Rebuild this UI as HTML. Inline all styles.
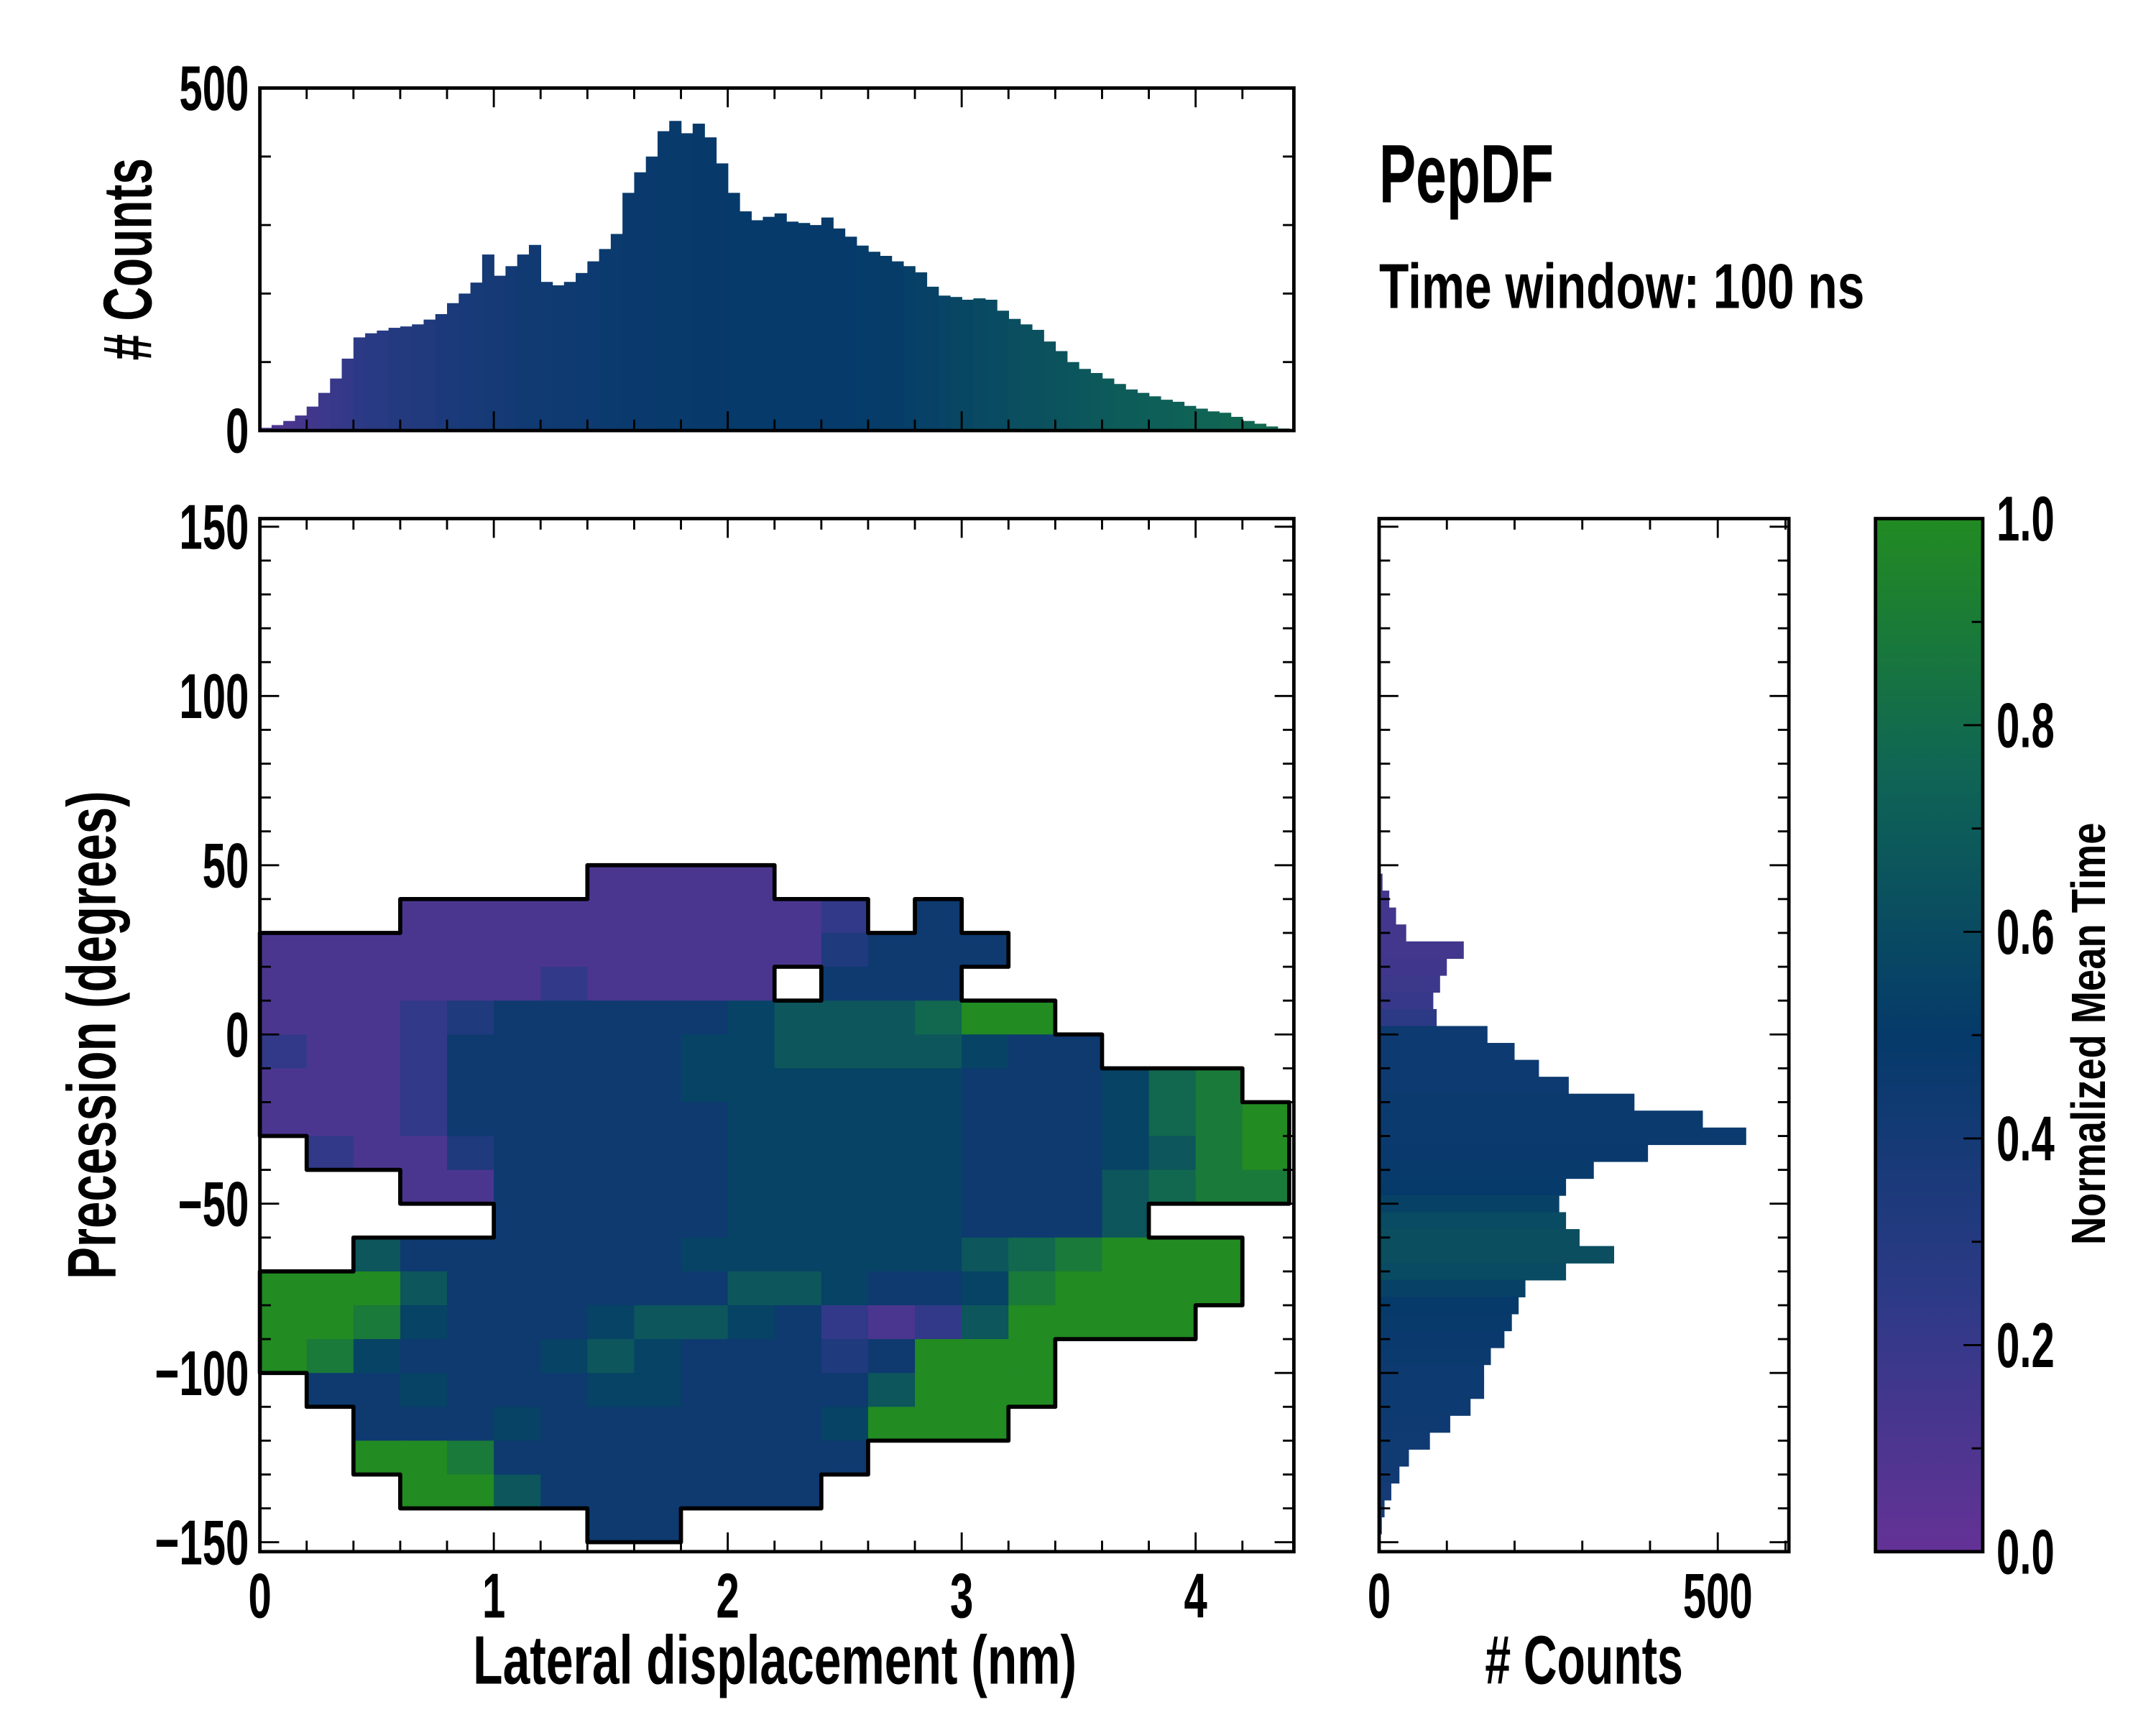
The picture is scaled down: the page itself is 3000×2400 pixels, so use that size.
<!DOCTYPE html>
<html><head><meta charset="utf-8"><style>
html,body{margin:0;padding:0;background:#fff;}
svg{display:block;}
text{font-family:"Liberation Sans Narrow","Liberation Sans",sans-serif;font-weight:bold;fill:#000;}
</style></head><body>
<svg id="fig" width="3000" height="2400" viewBox="0 0 1568 1254" preserveAspectRatio="none" xmlns="http://www.w3.org/2000/svg">
<defs>
<linearGradient id="cbar" x1="0" y1="1" x2="0" y2="0">
<stop offset="0" stop-color="#643296"/><stop offset="0.25" stop-color="#2c3a86"/>
<stop offset="0.5" stop-color="#053a6a"/><stop offset="0.75" stop-color="#0f6455"/>
<stop offset="1" stop-color="#228b22"/>
</linearGradient>
</defs>
<g id="top-hist"></g>
<g id="main"></g>
<g id="right-hist"></g>
<g id="colorbar">
<rect x="1364" y="377" width="78" height="751" fill="url(#cbar)" stroke="#000" stroke-width="2.5"/>
</g>
<text x="1003" y="147" font-size="60" textLength="127" lengthAdjust="spacingAndGlyphs">PepDF</text>
<text x="1003" y="224" font-size="46" textLength="353" lengthAdjust="spacingAndGlyphs">Time window: 100 ns</text>
<text x="344" y="1224" font-size="50" textLength="439" lengthAdjust="spacingAndGlyphs">Lateral displacement (nm)</text>
<text x="1080" y="1224" font-size="50" textLength="144" lengthAdjust="spacingAndGlyphs"># Counts</text>
<text transform="translate(84,930) rotate(-90)" font-size="50" textLength="355" lengthAdjust="spacingAndGlyphs">Precession (degrees)</text>
<text transform="translate(110,262) rotate(-90)" font-size="50" textLength="147" lengthAdjust="spacingAndGlyphs"># Counts</text>
<text transform="translate(1531,905) rotate(-90)" font-size="35" textLength="307" lengthAdjust="spacingAndGlyphs">Normalized Mean Time</text>
</svg>
<script>
// ---- data ----
const topBinStart = 0.0, topBinWidth = 0.05;
const topCounts = [4,8,14,22,35,55,76,105,136,142,146,150,152,155,162,170,186,200,216,257,226,240,257,271,217,212,217,230,247,265,287,347,377,400,437,452,434,448,428,390,347,320,307,312,317,305,303,300,311,295,283,270,261,255,247,240,231,210,197,195,191,193,191,175,163,155,147,130,116,100,90,84,76,68,60,55,50,45,42,36,32,28,26,20,14,10,6,3,2];
const topMeanTime = [0.1,0.1,0.12,0.14,0.16,0.18,0.2,0.22,0.25,0.27,0.28,0.3,0.31,0.32,0.33,0.35,0.36,0.37,0.38,0.4,0.4,0.41,0.42,0.42,0.43,0.44,0.44,0.45,0.45,0.46,0.46,0.47,0.47,0.47,0.48,0.48,0.48,0.49,0.49,0.49,0.5,0.5,0.5,0.5,0.5,0.5,0.5,0.5,0.5,0.5,0.5,0.51,0.51,0.52,0.52,0.53,0.54,0.55,0.56,0.57,0.58,0.59,0.6,0.61,0.62,0.63,0.63,0.64,0.65,0.66,0.67,0.68,0.69,0.7,0.7,0.71,0.72,0.72,0.73,0.74,0.75,0.75,0.76,0.76,0.77,0.78,0.78,0.78,0.78];
const rightBinTop = 47.5, rightBinWidth = 5;
const rightCounts = [5,15,25,40,125,100,90,80,85,160,200,236,280,377,478,542,397,317,276,266,276,296,347,276,216,206,196,185,165,155,155,135,105,75,44,30,18,8,4,2];
const rightMeanTime = [0.15,0.15,0.15,0.15,0.15,0.16,0.18,0.2,0.25,0.45,0.45,0.45,0.45,0.46,0.46,0.46,0.47,0.48,0.5,0.55,0.6,0.62,0.62,0.6,0.55,0.5,0.48,0.47,0.46,0.45,0.45,0.45,0.44,0.43,0.43,0.42,0.4,0.4,0.4,0.4];
const gridX0 = 0, gridDX = 0.2, gridYTop = 50, gridDY = 10;
const gridRows = [
".......1111...........",
"...1111111112.4.......",
"1111111111113444......",
"11111121111.444.......",
"11123444445666799.....",
"211244444556666544....",
"111244444555555444578.",
"1112444444555554445789",
".211344444555554445689",
"...1144444555554446788",
".....44444555554446...",
"..6444444555555678999.",
"999644444466544589999.",
"99854445665421269999..",
"98544456544434999.....",
".4454445544446999.....",
"..44454444445999......",
"..99844444444.........",
"...996444444..........",
".......44............."];
const xTicks = [0,1,2,3,4];
const yTicks = [150,100,50,0,-50,-100,-150];
const yTickLabels = ["150","100","50","0","\u221250","\u2212100","\u2212150"];
const topYTicks = [0,500];
const rightXTicks = [0,500];
const cbTicks = [0,0.2,0.4,0.6,0.8,1.0];
const cbTickLabels = ["0.0","0.2","0.4","0.6","0.8","1.0"];

// ---- geometry ----
const NS = "http://www.w3.org/2000/svg";
const MX0=189, MX1=941, MY0=377, MY1=1128;
const TY0=64, TY1=313, RX0=1003, RX1=1301, CX0=1364, CX1=1442;
const xMin=0, xMax=4.42, yMin=-152.8, yMax=152.4, tMax=500, rMax=605;
const sx = v => MX0 + (v-xMin)/(xMax-xMin)*(MX1-MX0);
const sy = v => MY1 - (v-yMin)/(yMax-yMin)*(MY1-MY0);
const sTop = v => TY1 - v/tMax*(TY1-TY0);
const sR = v => RX0 + v/rMax*(RX1-RX0);
const sC = v => MY1 - v*(MY1-MY0);

const stops=[[0,[100,50,150]],[0.25,[44,58,134]],[0.5,[5,58,106]],[0.75,[15,100,85]],[1,[34,139,34]]];
function cmap(t){t=Math.max(0,Math.min(1,t));for(let i=1;i<stops.length;i++){if(t<=stops[i][0]){const a=stops[i-1],b=stops[i];const f=(t-a[0])/(b[0]-a[0]);const c=a[1].map((v,k)=>Math.round(v+(b[1][k]-v)*f));return `rgb(${c[0]},${c[1]},${c[2]})`;}}return "rgb(34,139,34)";}
function mk(tag,attrs,parent){const e=document.createElementNS(NS,tag);for(const k in attrs)e.setAttribute(k,attrs[k]);parent.appendChild(e);return e;}
function line(p,x1,y1,x2,y2,w){return mk("line",{x1,y1,x2,y2,stroke:"#000","stroke-width":w||1.5},p);}
function label(p,x,y,s,anchor,size){const t=mk("text",{x:0,y:0,transform:`translate(${x},${y}) scale(0.66,1)`,"font-size":size||46,"text-anchor":anchor},p);t.textContent=s;return t;}

// ---- top histogram ----
const gT=document.getElementById("top-hist");
topCounts.forEach((c,i)=>{
  const x0=sx(topBinStart+i*topBinWidth), x1=sx(topBinStart+(i+1)*topBinWidth);
  const r=mk("rect",{x:x0,y:sTop(c),width:Math.max(0,Math.min(x1,MX1)-x0+0.4),height:TY1-sTop(c),fill:cmap(topMeanTime[i])},gT);
  
  
});
mk("rect",{x:MX0,y:TY0,width:MX1-MX0,height:TY1-TY0,fill:"none",stroke:"#000","stroke-width":2.5},gT);
for(let v=0;v<=4.4;v+=0.2){const x=sx(v);const maj=Math.abs(v-Math.round(v))<1e-6;const L=maj?14:8;line(gT,x,TY1,x,TY1-L);line(gT,x,TY0,x,TY0+L);}
for(let v=0;v<=500;v+=100){const y=sTop(v);const maj=(v%500===0);const L=maj?14:8;line(gT,MX0,y,MX0+L,y);line(gT,MX1,y,MX1-L,y);}
topYTicks.forEach(v=>{const t=label(gT,MX0-8,sTop(v)+16,String(v),"end");
  
  });

// ---- heatmap ----
const gM=document.getElementById("main");
const nR=gridRows.length, nC=gridRows[0].length;
const filled=(r,c)=>r>=0&&r<nR&&c>=0&&c<nC&&gridRows[r][c]!==".";
for(let r=0;r<nR;r++)for(let c=0;c<nC;c++){
  if(!filled(r,c))continue;
  const v=parseInt(gridRows[r][c])/9;
  const x0=sx(gridX0+c*gridDX), x1=Math.min(MX1,sx(gridX0+(c+1)*gridDX));
  const y0=sy(gridYTop-r*gridDY), y1=sy(gridYTop-(r+1)*gridDY);
  const cell=mk("rect",{x:x0,y:y0,width:x1-x0+0.5,height:y1-y0+0.5,fill:cmap(v)},gM);
  
  
}
let d="";
for(let r=0;r<nR;r++)for(let c=0;c<nC;c++){
  if(!filled(r,c))continue;
  const x0=sx(gridX0+c*gridDX), x1=Math.min(MX1,sx(gridX0+(c+1)*gridDX));
  const y0=sy(gridYTop-r*gridDY), y1=sy(gridYTop-(r+1)*gridDY);
  if(!filled(r-1,c))d+=`M${x0},${y0}L${x1},${y0}`;
  if(!filled(r+1,c))d+=`M${x0},${y1}L${x1},${y1}`;
  if(!filled(r,c-1))d+=`M${x0},${y0}L${x0},${y1}`;
  if(!filled(r,c+1))d+=`M${x1},${y0}L${x1},${y1}`;
}
const cont=mk("path",{d,fill:"none",stroke:"#000","stroke-width":3,"stroke-linecap":"round"},gM);


mk("rect",{x:MX0,y:MY0,width:MX1-MX0,height:MY1-MY0,fill:"none",stroke:"#000","stroke-width":2.5},gM);
for(let v=0;v<=4.4;v+=0.2){const x=sx(v);const maj=Math.abs(v-Math.round(v))<1e-6;const L=maj?14:8;line(gM,x,MY1,x,MY1-L);line(gM,x,MY0,x,MY0+L);}
for(let v=-150;v<=150;v+=10){const y=sy(v);const maj=(v%50===0);const L=maj?14:8;line(gM,MX0,y,MX0+L,y);line(gM,MX1,y,MX1-L,y);}
xTicks.forEach(v=>{const t=label(gM,sx(v),MY1+48,String(v),"middle");
  
  });
yTicks.forEach((v,i)=>{const t=label(gM,MX0-8,sy(v)+16,yTickLabels[i],"end");
  
  });

// ---- right histogram ----
const gR=document.getElementById("right-hist");
rightCounts.forEach((c,i)=>{
  const y0=sy(rightBinTop-i*rightBinWidth), y1=sy(rightBinTop-(i+1)*rightBinWidth);
  const b=mk("rect",{x:RX0,y:y0,width:sR(c)-RX0,height:y1-y0+0.4,fill:cmap(rightMeanTime[i])},gR);
  
  
});
mk("rect",{x:RX0,y:MY0,width:RX1-RX0,height:MY1-MY0,fill:"none",stroke:"#000","stroke-width":2.5},gR);
for(let v=0;v<=600;v+=100){const x=sR(v);const maj=(v%500===0);const L=maj?14:8;line(gR,x,MY1,x,MY1-L);line(gR,x,MY0,x,MY0+L);}
for(let v=-150;v<=150;v+=10){const y=sy(v);const maj=(v%50===0);const L=maj?14:8;line(gR,RX0,y,RX0+L,y);line(gR,RX1,y,RX1-L,y);}
rightXTicks.forEach(v=>{const t=label(gR,sR(v),MY1+48,String(v),"middle");
  
  });

// ---- colorbar ticks ----
const gC=document.getElementById("colorbar");
for(let v=0;v<=1.0001;v+=0.1){const y=sC(v);const maj=Math.round(v*10)%2===0;line(gC,CX1,y,CX1-(maj?14:8),y);}
cbTicks.forEach((v,i)=>{const t=label(gC,CX1+10,sC(v)+16,cbTickLabels[i],"start");
  
  });
</script>
</body></html>
